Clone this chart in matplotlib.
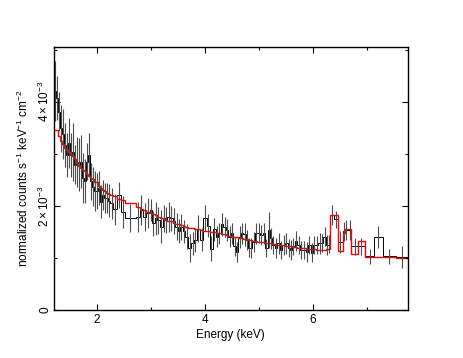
import numpy as np
import matplotlib
matplotlib.use("Agg")
import matplotlib.pyplot as plt
from matplotlib.ticker import FixedLocator, FuncFormatter

plt.rcParams["font.family"] = ["Liberation Sans", "DejaVu Sans"]
plt.rcParams["mathtext.fontset"] = "custom"
plt.rcParams["mathtext.rm"] = "Liberation Sans"
plt.rcParams["mathtext.it"] = "Liberation Sans:italic"

# bin edges (keV)
edges = [
    1.200, 1.237, 1.274, 1.311, 1.348, 1.385, 1.422, 1.459, 1.496, 1.533,
    1.570, 1.607, 1.644, 1.681, 1.718, 1.755, 1.792, 1.829, 1.866, 1.903,
    1.940, 1.977, 2.014, 2.051, 2.088, 2.125, 2.162, 2.199,
    2.236, 2.300, 2.370, 2.450, 2.510, 2.720, 2.790, 2.850, 2.915, 2.975,
    3.020, 3.070, 3.115, 3.160, 3.215, 3.265, 3.305, 3.350, 3.405, 3.450,
    3.500, 3.545, 3.585, 3.635, 3.690, 3.750, 3.800, 3.850, 3.910, 3.965,
    4.030, 4.090, 4.150, 4.200, 4.245, 4.295, 4.345, 4.390, 4.435, 4.485,
    4.530, 4.575, 4.620, 4.665, 4.715, 4.760, 4.800, 4.840, 4.880, 4.925,
    4.975, 5.025, 5.075, 5.120, 5.165, 5.210, 5.250, 5.295, 5.345, 5.395,
    5.440, 5.485, 5.535, 5.580, 5.620, 5.665, 5.715, 5.760, 5.815, 5.870,
    5.920, 5.960, 6.005, 6.055, 6.105, 6.150, 6.195, 6.245, 6.295,
    6.330, 6.390, 6.470, 6.560, 6.600, 6.650, 6.720, 6.840, 6.970, 7.140,
    7.300, 7.550, 7.760,
]

# data, in units of 1e-3 counts/s/keV/cm2
rate = [
    4.20, 4.07, 3.81, 3.49, 3.37, 3.17, 2.98, 3.21, 2.98, 3.04,
    2.79, 2.85, 2.79, 2.85, 2.53, 2.47, 2.85, 2.98, 2.47, 2.37,
    2.28, 2.28, 2.34, 2.08, 2.21, 2.15, 2.15, 2.10,
    2.05, 1.93, 2.20, 1.88, 1.76, 1.79, 1.92, 1.79, 1.86, 1.92,
    1.67, 1.76, 1.72, 1.60, 1.76, 1.72, 1.79, 1.76, 1.70, 1.60,
    1.51, 1.60, 1.51, 1.41, 1.19, 1.28, 1.35, 1.56, 1.35, 1.77,
    1.62, 1.18, 1.55, 1.41, 1.47, 1.65, 1.60, 1.54, 1.41, 1.47,
    1.22, 1.12, 1.41, 1.47, 1.45, 1.35, 1.20, 1.19, 1.31, 1.47,
    1.48, 1.44, 1.47, 1.19, 1.54, 1.38, 1.25, 1.19, 1.28, 1.15,
    1.25, 1.28, 1.19, 1.15, 1.22, 1.33, 1.25, 1.15, 1.15, 1.12,
    1.25, 1.10, 1.25, 1.25, 1.28, 1.28, 1.41, 1.25, 1.27,
    1.83, 1.74, 1.31, 1.51, 1.54, 1.54, 1.22, 1.22, 1.03, 1.41,
    1.03, 1.01,
]

err = [
    0.58, 0.42, 0.38, 0.45, 0.48, 0.42, 0.42, 0.48, 0.42, 0.56,
    0.38, 0.48, 0.51, 0.51, 0.48, 0.42, 0.35, 0.42, 0.35, 0.38,
    0.38, 0.35, 0.32, 0.32, 0.29, 0.29, 0.29, 0.32,
    0.30, 0.30, 0.25, 0.30, 0.27, 0.29, 0.29, 0.27, 0.29, 0.22,
    0.24, 0.32, 0.26, 0.32, 0.26, 0.25, 0.29, 0.24, 0.25, 0.26,
    0.23, 0.25, 0.22, 0.24, 0.27, 0.22, 0.23, 0.26, 0.22, 0.25,
    0.22, 0.24, 0.22, 0.20, 0.21, 0.22, 0.19, 0.21, 0.20, 0.21,
    0.18, 0.19, 0.21, 0.20, 0.22, 0.19, 0.18, 0.20, 0.19, 0.21,
    0.20, 0.19, 0.21, 0.18, 0.34, 0.20, 0.18, 0.19, 0.20, 0.18,
    0.19, 0.20, 0.18, 0.19, 0.17, 0.19, 0.18, 0.17, 0.18, 0.19,
    0.17, 0.18, 0.17, 0.18, 0.20, 0.17, 0.18, 0.19, 0.17,
    0.19, 0.17, 0.21, 0.18, 0.19, 0.19, 0.17, 0.16, 0.14, 0.21,
    0.14, 0.21,
]

model = [
    3.46, 3.46, 3.35, 3.24, 3.18, 3.11, 3.08, 3.04, 3.00, 2.96,
    2.90, 2.83, 2.77, 2.72, 2.69, 2.66, 2.62, 2.58, 2.54, 2.51,
    2.46, 2.45, 2.38, 2.34, 2.31, 2.28, 2.25, 2.22,
    2.20, 2.18, 2.14, 2.12, 2.06, 1.98, 1.94, 1.92, 1.89, 1.86,
    1.84, 1.82, 1.79, 1.77, 1.75, 1.73, 1.71, 1.70, 1.68, 1.66,
    1.65, 1.64, 1.62, 1.60, 1.58, 1.57, 1.56, 1.55, 1.54, 1.52,
    1.51, 1.50, 1.49, 1.48, 1.47, 1.46, 1.45, 1.44, 1.43, 1.42,
    1.41, 1.40, 1.39, 1.38, 1.37, 1.36, 1.35, 1.34, 1.33, 1.32,
    1.31, 1.30, 1.30, 1.29, 1.28, 1.28, 1.27, 1.26, 1.25, 1.25,
    1.24, 1.23, 1.23, 1.22, 1.21, 1.21, 1.20, 1.19, 1.19, 1.18,
    1.18, 1.17, 1.17, 1.16, 1.16, 1.15, 1.15, 1.17, 1.17,
    1.83, 1.83, 1.14, 1.48, 1.56, 1.56, 1.08, 1.33, 1.01, 1.01,
    1.01, 1.00,
]

edges_a = np.array(edges)
centers = 0.5 * (edges_a[:-1] + edges_a[1:])

fig = plt.figure(figsize=(4.63, 3.58), dpi=100)
ax = fig.add_axes([54 / 463, 48 / 358, 353.5 / 463, 263 / 358])

ax.errorbar(centers, rate, yerr=err, fmt="none", ecolor="0.3", elinewidth=0.8, capsize=0)
ax.stairs(rate, edges, color="black", lw=0.7, baseline=None)
ax.stairs(model, edges, color="red", lw=1.0, baseline=None)

ax.set_xlim(1.2, 7.76)
ax.set_ylim(0, 5.05)

ax.xaxis.set_major_locator(FixedLocator([2, 4, 6]))
ax.xaxis.set_minor_locator(FixedLocator([3, 5, 7]))
ax.yaxis.set_major_locator(FixedLocator([0, 2, 4]))
ax.yaxis.set_minor_locator(FixedLocator([1, 3, 5]))


def ylab(v, pos):
    if v == 0:
        return "0"
    return r"$%d\times10^{-3}$" % round(v)


ax.yaxis.set_major_formatter(FuncFormatter(ylab))
ax.tick_params(which="both", direction="in", top=True, right=True, width=0.8, labelsize=8.5)
ax.tick_params(which="major", length=4, pad=3)
ax.tick_params(axis="y", which="major", pad=1.5)
ax.tick_params(which="minor", length=2.5)
for lab in ax.get_yticklabels():
    lab.set_rotation(90)
    lab.set_va("center")
for s in ax.spines.values():
    s.set_linewidth(1.0)

ax.set_xlabel("Energy (keV)", fontsize=8.5, labelpad=2)
ax.set_ylabel(r"normalized counts s$^{-1}$ keV$^{-1}$ cm$^{-2}$", fontsize=8.5, labelpad=4)

fig.savefig("out.png", dpi=100)
